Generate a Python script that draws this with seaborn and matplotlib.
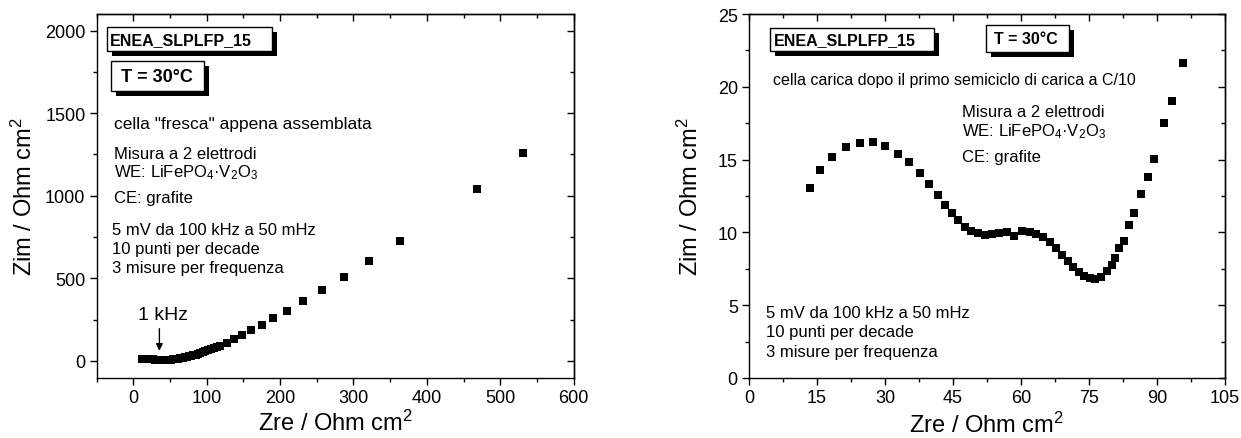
import pandas as pd
import matplotlib.pyplot as plt
import seaborn as sns
from matplotlib import patheffects
from matplotlib.patches import Rectangle
from matplotlib.ticker import MultipleLocator

# =========================
# 1. DATA
# =========================
# left panel: fresh cell, just assembled
fresh_zre = [12, 13.5, 15.2, 17, 18.8, 20.5, 22.2, 24, 25.7, 27.5, 29.3, 31, 32.7,
             34.4, 36, 37.8, 39.8, 41.6, 43.5, 45.5, 47.6, 49.7, 51.8, 54, 56, 58.3,
             60.7, 63, 65.4, 68, 70.7, 73.3, 75.9, 78.8, 81.7, 84.8, 88, 91.4, 94.8,
             98.3, 102, 105.7, 109.4, 113.5, 117.8, 127.2, 137.2, 148.2, 160.7, 174.9,
             190.6, 208.9, 230.9, 257.1, 287.4, 321.5, 362.8, 468.6, 530.4]
fresh_zim = [14, 14, 14, 13, 12, 11.5, 11, 10, 9.5, 9, 8, 7, 6,
             5, 4, 4, 4, 4, 4.5, 5, 6, 7, 8, 9, 10, 12,
             14, 16, 18, 20, 22, 25, 28, 31, 34, 38, 42, 47, 53,
             59, 65, 71, 77, 85, 93, 111, 131, 158, 186, 220,
             259, 305, 362, 428, 509, 608, 727, 1042, 1257]

# right panel: charged cell after first charge half-cycle at C/10
charged_zre = [13.5, 15.7, 18.4, 21.4, 24.4, 27.3, 30.1, 32.8, 35.4, 37.7, 39.7, 41.6,
               43.2, 44.8, 46.2, 47.6, 49.0, 50.5, 52.0, 53.6, 55.2, 56.9, 58.4, 60.2,
               61.9, 63.4, 64.8, 66.3, 67.8, 69.1, 70.3, 71.5, 72.8, 74.0, 75.2, 76.4,
               77.7, 79.0, 80.1, 80.7, 81.6, 82.8, 83.9, 84.9, 86.5, 88.0, 89.4, 91.5,
               93.3, 95.8]
charged_zim = [13.05, 14.31, 15.20, 15.84, 16.14, 16.19, 15.96, 15.41, 14.84, 14.08,
               13.35, 12.59, 11.90, 11.36, 10.83, 10.37, 10.10, 9.94, 9.84, 9.87, 9.94,
               10.00, 9.73, 10.07, 10.03, 9.91, 9.66, 9.32, 8.91, 8.47, 8.04, 7.65, 7.30,
               7.03, 6.85, 6.82, 6.96, 7.37, 7.78, 8.25, 8.90, 9.39, 10.49, 11.36, 12.61,
               13.78, 15.04, 17.49, 19.05, 21.63]

sample_name = "ENEA_SLPLFP_15"
temp_label = "T = 30°C"
meas_lines = ["Misura a 2 elettrodi", "WE: LiFePO$_4$·V$_2$O$_3$", "CE: grafite"]
eis_lines = ["5 mV da 100 kHz a 50 mHz", "10 punti per decade", "3 misure per frequenza"]

df_fresh = pd.DataFrame({"Zre": fresh_zre, "Zim": fresh_zim})
df_charged = pd.DataFrame({"Zre": charged_zre, "Zim": charged_zim})

# =========================
# 2. STYLE
# =========================
sns.set_style("ticks")
plt.rcParams["font.family"] = ["Liberation Sans", "DejaVu Sans"]
plt.rcParams["mathtext.fontset"] = "custom"
plt.rcParams["mathtext.rm"] = "Liberation Sans"
plt.rcParams["mathtext.it"] = "Liberation Sans:italic"
plt.rcParams["mathtext.bf"] = "Liberation Sans:bold"
plt.rcParams["text.color"] = "black"
plt.rcParams["axes.labelcolor"] = "black"
plt.rcParams["xtick.color"] = "black"
plt.rcParams["ytick.color"] = "black"

fig = plt.figure(figsize=(12.41, 4.39), dpi=100)
ax1 = fig.add_axes([0.0778, 0.1378, 0.3845, 0.828])
ax2 = fig.add_axes([0.6035, 0.1367, 0.3836, 0.829])

shadow = [patheffects.SimplePatchShadow(offset=(3.6, -3.6), shadow_rgbFace="black", alpha=1),
          patheffects.Normal()]


def shadow_box(ax, x, y, w, h, label, tx, ty, size):
    r = Rectangle((x, y), w, h, transform=ax.transAxes, fc="white", ec="black",
                  lw=1, zorder=5, clip_on=False)
    r.set_path_effects(shadow)
    ax.add_patch(r)
    ax.text(tx, ty, label, transform=ax.transAxes, fontsize=size, fontweight="bold",
            va="center", ha="left", zorder=6)


def style_axes(ax, xmaj, ymaj):
    for s in ax.spines.values():
        s.set_visible(True)
        s.set_linewidth(1.0)
        s.set_color("black")
    ax.xaxis.set_major_locator(MultipleLocator(xmaj))
    ax.xaxis.set_minor_locator(MultipleLocator(xmaj / 2))
    ax.yaxis.set_major_locator(MultipleLocator(ymaj))
    ax.yaxis.set_minor_locator(MultipleLocator(ymaj / 2))
    ax.tick_params(which="major", direction="out", length=5, width=1, labelsize=13,
                   pad=3, colors="black")
    ax.tick_params(which="minor", direction="out", length=3, width=1)
    # inward ticks on top and right, no labels
    top = ax.secondary_xaxis("top")
    right = ax.secondary_yaxis("right")
    for sec, axis in ((top, top.xaxis), (right, right.yaxis)):
        axis.set_major_locator(MultipleLocator(xmaj if sec is top else ymaj))
        axis.set_minor_locator(MultipleLocator((xmaj if sec is top else ymaj) / 2))
        sec.tick_params(which="major", direction="in", length=5, width=1,
                        labeltop=False, labelright=False)
        sec.tick_params(which="minor", direction="in", length=3, width=1)
        sec.spines[:].set_linewidth(1.0)


# =========================
# 3. LEFT PANEL
# =========================
sns.scatterplot(data=df_fresh, x="Zre", y="Zim", marker="s", color="black", s=40,
                linewidth=0, ax=ax1, zorder=3)
ax1.set_xlim(-50, 600)
ax1.set_ylim(-100, 2100)
style_axes(ax1, 100, 500)
ax1.set_xlabel("Zre / Ohm cm$^2$", fontsize=17)
ax1.set_ylabel("Zim / Ohm cm$^2$", fontsize=17)
ax1.xaxis.set_label_coords(0.5, -0.088)
ax1.yaxis.set_label_coords(-0.125, 0.5)

shadow_box(ax1, 0.0224, 0.8974, 0.3444, 0.066, sample_name, 0.028, 0.930, 11.5)
shadow_box(ax1, 0.0302, 0.7873, 0.195, 0.0825, temp_label, 0.0507, 0.829, 13)

ax1.text(0.036, 0.700, 'cella "fresca" appena assemblata', transform=ax1.transAxes,
         fontsize=12.5, va="center")
for txt, yy in zip(meas_lines, [0.617, 0.567, 0.494]):
    ax1.text(0.036, yy, txt, transform=ax1.transAxes, fontsize=12, va="center")
for txt, yy in zip(eis_lines, [0.406, 0.354, 0.302]):
    ax1.text(0.032, yy, txt, transform=ax1.transAxes, fontsize=12, va="center")

ax1.annotate("", xy=(35.6, 45), xytext=(35.6, 212),
             arrowprops=dict(arrowstyle="-|>", color="black", lw=1, mutation_scale=10))
ax1.text(40.5, 283, "1 kHz", fontsize=14, ha="center", va="center")

# =========================
# 4. RIGHT PANEL
# =========================
sns.scatterplot(data=df_charged, x="Zre", y="Zim", marker="s", color="black", s=40,
                linewidth=0, ax=ax2, zorder=3)
ax2.set_xlim(0, 105)
ax2.set_ylim(0, 25)
style_axes(ax2, 15, 5)
ax2.set_xlabel("Zre / Ohm cm$^2$", fontsize=17)
ax2.set_ylabel("Zim / Ohm cm$^2$", fontsize=17)
ax2.xaxis.set_label_coords(0.5, -0.094)
ax2.yaxis.set_label_coords(-0.097, 0.5)

shadow_box(ax2, 0.0452, 0.899, 0.343, 0.064, sample_name, 0.0519, 0.931, 11.5)
shadow_box(ax2, 0.497, 0.895, 0.175, 0.075, temp_label, 0.515, 0.932, 11.5)

ax2.text(0.051, 0.821, "cella carica dopo il primo semiciclo di carica a C/10",
         transform=ax2.transAxes, fontsize=11.5, va="center")
for txt, yy in zip(meas_lines, [0.732, 0.679, 0.609]):
    ax2.text(0.448, yy, txt, transform=ax2.transAxes, fontsize=12, va="center")
for txt, yy in zip(eis_lines, [0.179, 0.127, 0.073]):
    ax2.text(0.036, yy, txt, transform=ax2.transAxes, fontsize=12, va="center")

fig.savefig("out.png", dpi=100)
